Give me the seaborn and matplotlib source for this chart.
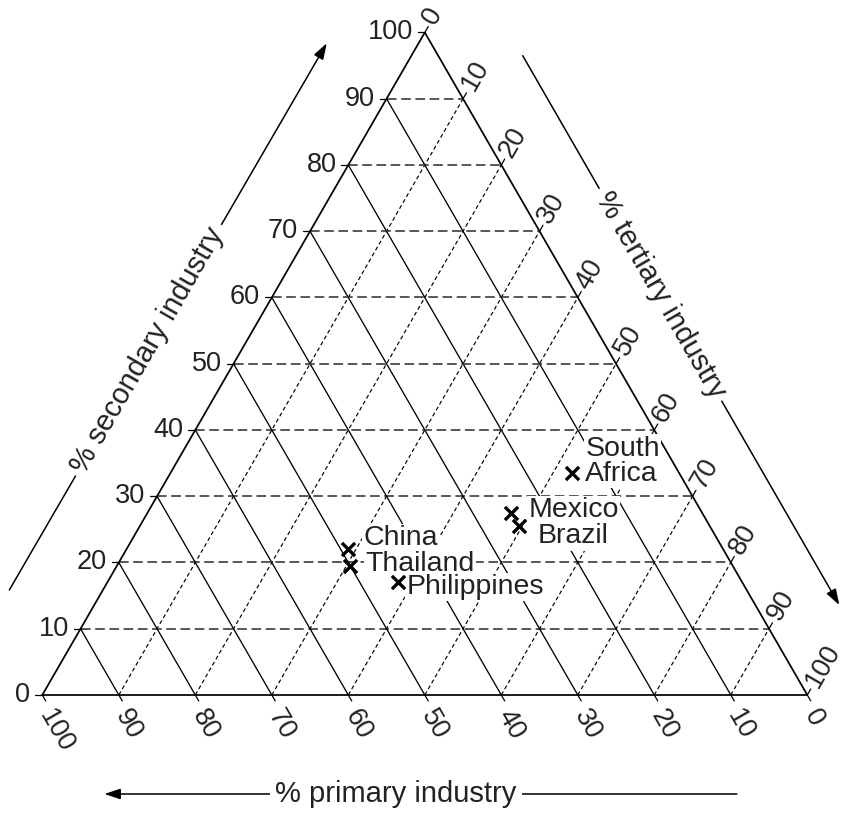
import numpy as np
import pandas as pd
import matplotlib.pyplot as plt
import seaborn as sns

sns.set_theme(style="white")
plt.rcParams['font.family'] = ['Liberation Sans', 'DejaVu Sans']

# data (% of employment by sector)
countries = ['South\nAfrica', 'Mexico', 'Brazil', 'China', 'Thailand', 'Philippines']
primary = [14, 25, 25, 49, 50, 45]
secondary = [33.5, 27.5, 25.5, 22, 19.5, 17]
tertiary = [52.5, 47.5, 49.5, 29, 30.5, 38]

# label offsets from each cross, in points
label_dx = [9.5, 12.5, 13.5, 11, 11, 6]
label_dy = [8.5, 2, -7.5, 7.8, 1, -3.3]

ticks = list(range(0, 101, 10))

h = np.sqrt(3) / 2


def tern(t, s):
    # tertiary corner at bottom right, secondary corner at top
    return np.asarray(t) + np.asarray(s) / 2, np.asarray(s) * h


fig = plt.figure(figsize=(8.42, 8.14), dpi=100)
ax = fig.add_axes([0, 0, 1, 1])

txt = '#222222'
fs = 19.5

# grid
for v in ticks[1:-1]:
    # secondary = v : horizontal dashed
    x0, y0 = tern(0, v)
    x1, y1 = tern(100 - v, v)
    ax.plot([x0, x1], [y0, y1], color='#2a2a2a', lw=1.1, dashes=(6.3, 3), zorder=1)
    # primary = v : solid
    x0, y0 = tern(100 - v, 0)
    x1, y1 = tern(0, 100 - v)
    ax.plot([x0, x1], [y0, y1], color='black', lw=0.95, zorder=1)
    # tertiary = v : dotted
    x0, y0 = tern(v, 0)
    x1, y1 = tern(v, 100 - v)
    ax.plot([x0, x1], [y0, y1], color='black', lw=0.85, dashes=(3.4, 2.4), zorder=1)

# outline
cx, cy = tern([0, 100, 0, 0], [0, 0, 100, 0])
ax.plot(cx, cy, color='black', lw=1.25, zorder=2, solid_joinstyle='miter')

L = 0.9
for v in ticks:
    # secondary ticks / labels on the left edge
    x, y = tern(0, v)
    ax.plot([x, x - L], [y, y], color='black', lw=0.9, zorder=2)
    ax.text(x - 1.55, y, str(v), ha='right', va='center', fontsize=fs, color=txt)
    # primary ticks / labels on the bottom
    x, y = tern(100 - v, 0)
    ax.plot([x, x + 0.5 * L], [y, y - h * L], color='black', lw=0.9, zorder=2)
    ax.text(x + 0.3, y - 2.1, str(v), rotation=-60, rotation_mode='anchor',
            ha='left', va='center', fontsize=fs, color=txt)
    # tertiary ticks / labels on the right edge
    x, y = tern(v, 100 - v)
    ax.plot([x, x + 0.5 * L], [y, y + h * L], color='black', lw=0.9, zorder=2)
    ax.text(x + 0.6, y + 1.3, str(v), rotation=60, rotation_mode='anchor',
            ha='left', va='center', fontsize=fs, color=txt)

df = pd.DataFrame({'country': countries, 'primary': primary,
                   'secondary': secondary, 'tertiary': tertiary})
df['x'], df['y'] = tern(df['tertiary'], df['secondary'])

sns.scatterplot(data=df, x='x', y='y', marker='x', color='black', s=90,
                linewidth=2.4, ax=ax, zorder=4, legend=False)

for i, row in df.iterrows():
    ax.annotate(row['country'], (row['x'], row['y']),
                xytext=(label_dx[i], label_dy[i]), textcoords='offset points',
                ha='left', va='center', fontsize=20.5, color=txt, linespacing=0.95,
                bbox=dict(fc='white', ec='none', pad=1), zorder=3)


def axis_arrow(start, end, label, center, rot):
    ax.annotate('', xy=end, xytext=start,
                arrowprops=dict(arrowstyle='-|>,head_length=0.6,head_width=0.2',
                                mutation_scale=16, lw=1.1, color='black',
                                shrinkA=0, shrinkB=0))
    ax.text(center[0], center[1], label, rotation=rot, rotation_mode='anchor',
            ha='center', va='center', fontsize=21, color=txt,
            bbox=dict(fc='white', ec='none', pad=4))


axis_arrow((-4.31, 13.73), (37.18, 85.19), '% secondary industry', (13.82, 45.1), 60)
axis_arrow((62.8, 83.57), (104.18, 11.76), '% tertiary industry', (80.75, 52.29), -60)
axis_arrow((90.8, -12.94), (8.12, -12.94), '% primary industry', (46.2, -12.94), 0)

scale = 7.65
ax.set_xlim(-42.3 / scale, (842 - 42.3) / scale)
ax.set_ylim(-(814 - 695) / scale, 695 / scale)
ax.set_axis_off()

fig.savefig('out.png', dpi=100, facecolor='white')
